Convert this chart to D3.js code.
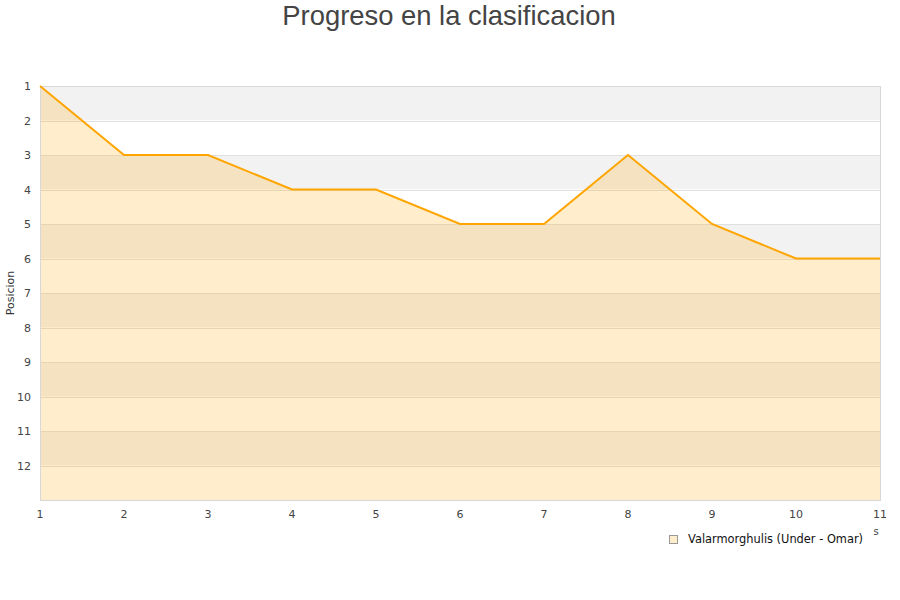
<!DOCTYPE html>
<html>
<head>
<meta charset="utf-8">
<script src="https://d3js.org/d3.v7.min.js"></script>
<style>
  body { margin: 0; background: #fff; }
  text { font-family: "DejaVu Sans", sans-serif; }
</style>
</head>
<body>
<script>
// datos del grafico
var jornadas = [1, 2, 3, 4, 5, 6, 7, 8, 9, 10, 11];
var posiciones = [1, 3, 3, 4, 4, 5, 5, 3, 5, 6, 6];
var posTicks = [1, 2, 3, 4, 5, 6, 7, 8, 9, 10, 11, 12];
var serieNombre = "Valarmorghulis (Under - Omar)";
var titulo = "Progreso en la clasificacion";

var width = 900, height = 600;
var plotLeft = 40, plotRight = 880, plotTop = 86, plotBottom = 500;

var svg = d3.select("body").append("svg")
  .attr("width", width)
  .attr("height", height);

var x = d3.scaleLinear().domain([1, 11]).range([plotLeft, plotRight]);
var y = d3.scaleLinear().domain([1, 13]).range([plotTop, plotBottom]);

// bandas alternas
var bandas = d3.range(1, 13);
svg.selectAll("rect.band")
  .data(bandas)
  .enter().append("rect")
  .attr("class", "band")
  .attr("x", plotLeft)
  .attr("width", plotRight - plotLeft)
  .attr("y", function(d) { return y(d); })
  .attr("height", function(d) { return y(d + 1) - y(d); })
  .attr("fill", function(d) { return d % 2 == 1 ? "#f2f2f2" : "#ffffff"; });

// lineas de la rejilla
svg.selectAll("line.grid")
  .data(posTicks)
  .enter().append("line")
  .attr("x1", plotLeft).attr("x2", plotRight)
  .attr("y1", function(d) { return Math.round(y(d)) + 0.5; })
  .attr("y2", function(d) { return Math.round(y(d)) + 0.5; })
  .attr("stroke", "#e0e0e0");

// area
var area = d3.area()
  .x(function(d, i) { return x(jornadas[i]); })
  .y0(plotBottom)
  .y1(function(d) { return y(d); });

svg.append("path")
  .datum(posiciones)
  .attr("d", area)
  .attr("fill", "rgb(255,165,0)")
  .attr("fill-opacity", 0.2);

// borde del area de trazado
svg.append("rect")
  .attr("x", plotLeft + 0.5).attr("y", plotTop + 0.5)
  .attr("width", plotRight - plotLeft).attr("height", plotBottom - plotTop)
  .attr("fill", "none")
  .attr("stroke", "#d8d8d8");

var line = d3.line()
  .x(function(d, i) { return x(jornadas[i]); })
  .y(function(d) { return y(d); });

svg.append("path")
  .datum(posiciones)
  .attr("d", line)
  .attr("fill", "none")
  .attr("stroke", "#ffa500")
  .attr("stroke-width", 2);

// etiquetas eje y
svg.selectAll("text.ytick")
  .data(posTicks)
  .enter().append("text")
  .attr("class", "ytick")
  .attr("x", 31)
  .attr("y", function(d) { return y(d) + 4; })
  .attr("text-anchor", "end")
  .attr("font-size", 11)
  .attr("fill", "#444")
  .text(function(d) { return d; });

// etiquetas eje x
svg.selectAll("text.xtick")
  .data(jornadas)
  .enter().append("text")
  .attr("class", "xtick")
  .attr("x", function(d) { return x(d); })
  .attr("y", 518)
  .attr("text-anchor", "middle")
  .attr("font-size", 11)
  .attr("fill", "#444")
  .text(function(d) { return d; });

// titulo eje y
svg.append("text")
  .attr("transform", "translate(14,293) rotate(-90)")
  .attr("text-anchor", "middle")
  .attr("font-size", 11)
  .attr("fill", "#333")
  .text("Posicion");

// resto del titulo del eje x
svg.append("text")
  .attr("x", 876).attr("y", 535)
  .attr("text-anchor", "middle")
  .attr("font-size", 10)
  .attr("fill", "#444")
  .text("s");

// titulo
svg.append("text")
  .attr("x", 449).attr("y", 25)
  .attr("text-anchor", "middle")
  .style("font-family", "'Liberation Sans', Arial, sans-serif")
  .attr("font-size", 27.4)
  .attr("fill", "#444")
  .text(titulo);

// leyenda
svg.append("rect")
  .attr("x", 669.5).attr("y", 535.5)
  .attr("width", 8).attr("height", 8)
  .attr("fill", "#ffeecc")
  .attr("stroke", "#999");

svg.append("text")
  .attr("x", 688).attr("y", 543)
  .attr("font-size", 11.4)
  .attr("fill", "#111")
  .text(serieNombre);
</script>
</body>
</html>
